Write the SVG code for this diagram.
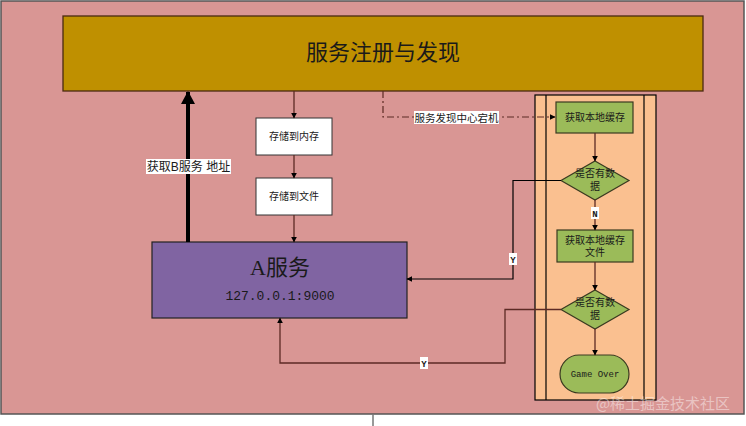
<svg xmlns="http://www.w3.org/2000/svg" width="746" height="426" viewBox="0 0 746 426">
<style>
.cjk{font-family:"Liberation Sans","Noto Sans CJK SC",sans-serif;fill:#1a1a1a}
.mono{font-family:"Liberation Mono","Noto Sans CJK SC",monospace;fill:#1a1a1a}
.ln{fill:none;stroke:#5c2a24;stroke-width:1.3}
.bl{fill:none;stroke:#000;stroke-width:1.2}
.lbl{fill:#fff}
</style>
<defs>
<marker id="ah" viewBox="0 0 10 10" refX="9" refY="5" markerWidth="6" markerHeight="6" orient="auto" markerUnits="userSpaceOnUse"><path d="M0,0 L10,5 L0,10 z" fill="#000"/></marker>
<marker id="ahs" viewBox="0 0 10 10" refX="9" refY="5" markerWidth="9" markerHeight="9" orient="auto" markerUnits="userSpaceOnUse"><path d="M0,0 L10,5 L0,10 z" fill="#000"/></marker>
</defs>
<rect x="0" y="0" width="746" height="426" fill="#fff"/>
<rect x="1" y="1" width="743" height="413" fill="#D99694" stroke="#555" stroke-width="1.5"/>
<line x1="373" y1="414" x2="373" y2="426" stroke="#777" stroke-width="1.5"/>

<g id="registry">
<rect x="63" y="16" width="640" height="75" fill="#BF9000" stroke="#4a2a10" stroke-width="1.3"/>
<text x="383" y="60" class="cjk" font-size="22" text-anchor="middle">服务注册与发现</text>
</g>

<g id="pool">
<rect x="535" y="95" width="121" height="305" fill="#FAC090" stroke="#000" stroke-width="1.2"/>
<line x1="546" y1="95" x2="546" y2="400" stroke="#000" stroke-width="1.2"/>
<line x1="644" y1="95" x2="644" y2="400" stroke="#000" stroke-width="1.2"/>
</g>

<g id="mem">
<rect x="256" y="118" width="76" height="37" fill="#fff" stroke="#333" stroke-width="1"/>
<text x="294" y="140" class="cjk" font-size="10" text-anchor="middle">存储到内存</text>
</g>
<g id="file">
<rect x="256" y="178" width="76" height="37" fill="#fff" stroke="#333" stroke-width="1"/>
<text x="294" y="200" class="cjk" font-size="10" text-anchor="middle">存储到文件</text>
</g>

<g id="serviceA">
<rect x="152" y="242" width="255" height="76" fill="#8064A2" stroke="#222" stroke-width="1.2"/>
<text x="280" y="275" font-family="Liberation Serif,'Noto Sans CJK SC',serif" font-size="22" fill="#1a1a1a" text-anchor="middle">A服务</text>
<text x="280" y="300" class="mono" font-size="13" text-anchor="middle">127.0.0.1:9000</text>
</g>

<g id="cache1">
<rect x="556" y="102" width="77" height="31" fill="#9BBB59" stroke="#3a3a20" stroke-width="1.2"/>
<text x="595" y="121" class="cjk" font-size="10" text-anchor="middle">获取本地缓存</text>
</g>
<g id="check1">
<polygon points="595,161 629,180.5 595,200 561,180.5" fill="#9BBB59" stroke="#3a3a20" stroke-width="1.2"/>
<text x="595" y="177" class="cjk" font-size="10" text-anchor="middle">是否有数</text>
<text x="595" y="190" class="cjk" font-size="10" text-anchor="middle">据</text>
</g>
<g id="cache2">
<rect x="557" y="230" width="76" height="32" fill="#9BBB59" stroke="#3a3a20" stroke-width="1.2"/>
<text x="595" y="244" class="cjk" font-size="10" text-anchor="middle">获取本地缓存</text>
<text x="595" y="256" class="cjk" font-size="10" text-anchor="middle">文件</text>
</g>
<g id="check2">
<polygon points="595,290 629,309.5 595,329 561,309.5" fill="#9BBB59" stroke="#3a3a20" stroke-width="1.2"/>
<text x="595" y="306" class="cjk" font-size="10" text-anchor="middle">是否有数</text>
<text x="595" y="319" class="cjk" font-size="10" text-anchor="middle">据</text>
</g>
<g id="gameover">
<rect x="560" y="355" width="69" height="38" rx="19" ry="19" fill="#9BBB59" stroke="#3a3a20" stroke-width="1.2"/>
<text x="595" y="377" class="mono" font-size="9" text-anchor="middle">Game Over</text>
</g>

<g id="connectors">
<line x1="294" y1="91" x2="294" y2="118" class="ln" marker-end="url(#ah)"/>
<line x1="294" y1="155" x2="294" y2="178" class="ln" marker-end="url(#ah)"/>
<line x1="294" y1="215" x2="294" y2="242" class="ln" marker-end="url(#ah)"/>
<line x1="188" y1="242" x2="188" y2="92" stroke="#000" stroke-width="4"/>
<path d="M181,104 L188,91 L195,104 z" fill="#000"/>
<rect x="146" y="159" width="85" height="15" class="lbl"/>
<text x="188.5" y="171" class="cjk" font-size="12" text-anchor="middle">获取B服务 地址</text>
<path d="M383,91 L383,117 L555,117" fill="none" stroke="#5c2a24" stroke-width="1.2" stroke-dasharray="7,3,2,3" marker-end="url(#ah)"/>
<rect x="414" y="111" width="85" height="13" class="lbl"/>
<text x="456.5" y="121.5" class="cjk" font-size="10.5" text-anchor="middle">服务发现中心宕机</text>
<line x1="595" y1="133" x2="595" y2="161" class="ln" marker-end="url(#ah)"/>
<line x1="595" y1="200" x2="595" y2="230" class="ln" marker-end="url(#ah)"/>
<rect x="591" y="207" width="8" height="12" class="lbl"/>
<text x="595" y="217" class="mono" font-size="9" font-weight="bold" text-anchor="middle">N</text>
<line x1="595" y1="262" x2="595" y2="290" class="ln" marker-end="url(#ah)"/>
<line x1="595" y1="329" x2="595" y2="355" class="ln" marker-end="url(#ah)"/>
<path d="M561,180.5 L513,180.5 L513,279 L407,279" class="bl" marker-end="url(#ah)"/>
<rect x="509" y="253" width="8" height="12" class="lbl"/>
<text x="513" y="263" class="mono" font-size="9" font-weight="bold" text-anchor="middle">Y</text>
<path d="M561,309.5 L505,309.5 L505,363 L280,363 L280,318" class="ln" marker-end="url(#ah)"/>
<rect x="420" y="357" width="8" height="12" class="lbl"/>
<text x="424" y="367" class="mono" font-size="9" font-weight="bold" text-anchor="middle">Y</text>
</g>

<text x="663" y="409" font-family="'Noto Sans CJK SC',sans-serif" font-size="15" fill="#fff" fill-opacity="0.45" text-anchor="middle">@稀土掘金技术社区</text>
</svg>
